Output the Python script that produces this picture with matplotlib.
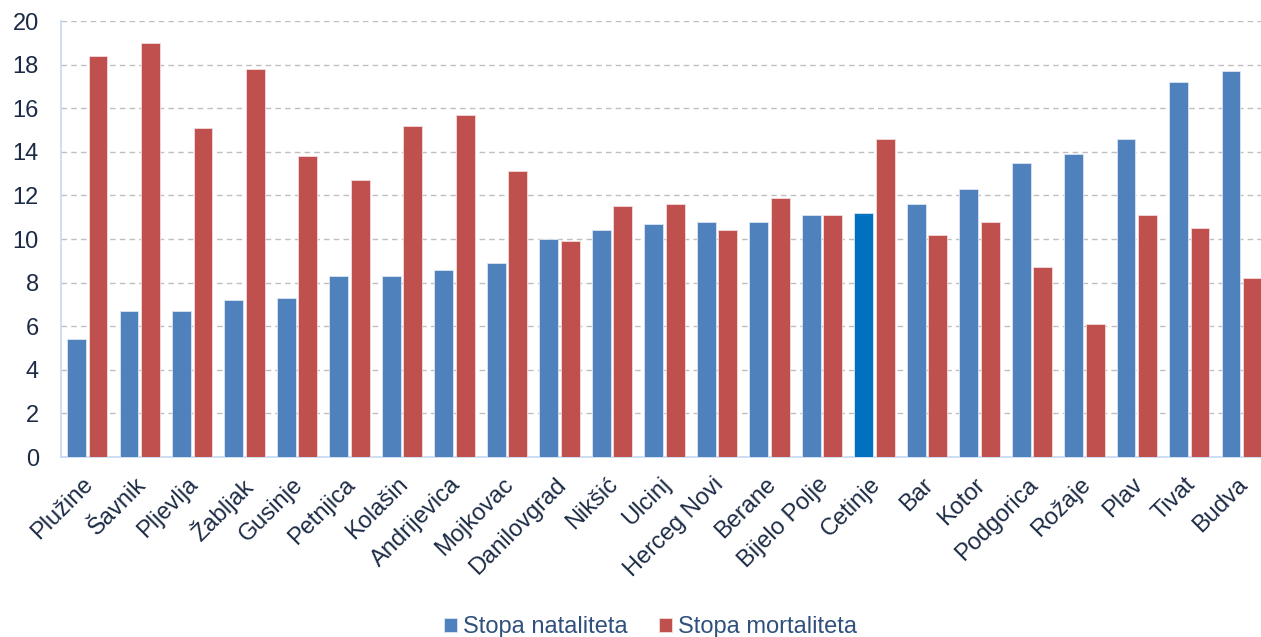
import matplotlib.pyplot as plt
import matplotlib.transforms as mtransforms
import numpy as np

# ── data ──────────────────────────────────────────────────────────────────────
opstine = ["Plužine", "Šavnik", "Pljevlja", "Žabljak", "Gusinje", "Petnjica",
           "Kolašin", "Andrijevica", "Mojkovac", "Danilovgrad", "Nikšić",
           "Ulcinj", "Herceg Novi", "Berane", "Bijelo Polje", "Cetinje", "Bar",
           "Kotor", "Podgorica", "Rožaje", "Plav", "Tivat", "Budva"]
natalitet = [5.4, 6.7, 6.7, 7.2, 7.3, 8.3, 8.3, 8.6, 8.9, 10.0, 10.4, 10.7,
             10.8, 10.8, 11.1, 11.2, 11.6, 12.3, 13.5, 13.9, 14.6, 17.2, 17.7]
mortalitet = [18.4, 19.0, 15.1, 17.8, 13.8, 12.7, 15.2, 15.7, 13.1, 9.9, 11.5,
              11.6, 10.4, 11.9, 11.1, 14.6, 10.2, 10.8, 8.7, 6.1, 11.1, 10.5, 8.2]
istaknuta = "Cetinje"

BLUE = "#4F81BD"
BLUE_HL = "#0070C0"
RED = "#C0504D"
TEXT = "#1C2B45"
LEG_TEXT = "#30507E"

plt.rcParams['font.family'] = ['Liberation Sans', 'DejaVu Sans']

fig = plt.figure(figsize=(12.61, 6.37), dpi=100)
ax = fig.add_axes([61 / 1261, 1 - 457 / 637, 1207 / 1261, 436 / 637])

x = np.arange(len(opstine)) + 0.5
w = 0.36
off = 0.205
blue_cols = [BLUE_HL if o == istaknuta else BLUE for o in opstine]
ax.bar(x - off, natalitet, w, color=blue_cols, edgecolor="#DCE6F2", linewidth=0.6,
       label="Stopa nataliteta", zorder=3)
ax.bar(x + off, mortalitet, w, color=RED, edgecolor="#F2DCDB", linewidth=0.6,
       label="Stopa mortaliteta", zorder=3)

ax.set_xlim(0, len(opstine))
ax.set_ylim(0, 20)
ax.set_yticks(range(0, 21, 2))
ax.yaxis.grid(True, linestyle=(0, (4, 3)), color="#BFBFBF", linewidth=1.0, zorder=0)
ax.set_axisbelow(True)

for s in ["top", "right"]:
    ax.spines[s].set_visible(False)
for s in ["left", "bottom"]:
    ax.spines[s].set_color("#C6D9F1")
    ax.spines[s].set_linewidth(1.2)

ax.tick_params(axis="y", length=0, pad=16, labelsize=17, labelcolor=TEXT)
ax.tick_params(axis="x", length=0, pad=12, labelsize=17, labelcolor=TEXT)
ax.set_xticks(x)
ax.set_xticklabels(opstine, rotation=45, ha="right", rotation_mode="anchor")
# nudge the slanted labels a few pixels left, like in the original
shift = mtransforms.ScaledTranslation(-5 / 100, 0, fig.dpi_scale_trans)
for t in ax.get_xticklabels():
    t.set_transform(t.get_transform() + shift)

leg = fig.legend(loc="lower center", bbox_to_anchor=(0.516, -0.035), ncol=2,
                 frameon=False, fontsize=17, handlelength=0.55, handleheight=0.55,
                 handletextpad=0.25, columnspacing=1.35)
for t in leg.get_texts():
    t.set_color(LEG_TEXT)

fig.savefig("out.png", dpi=100)
